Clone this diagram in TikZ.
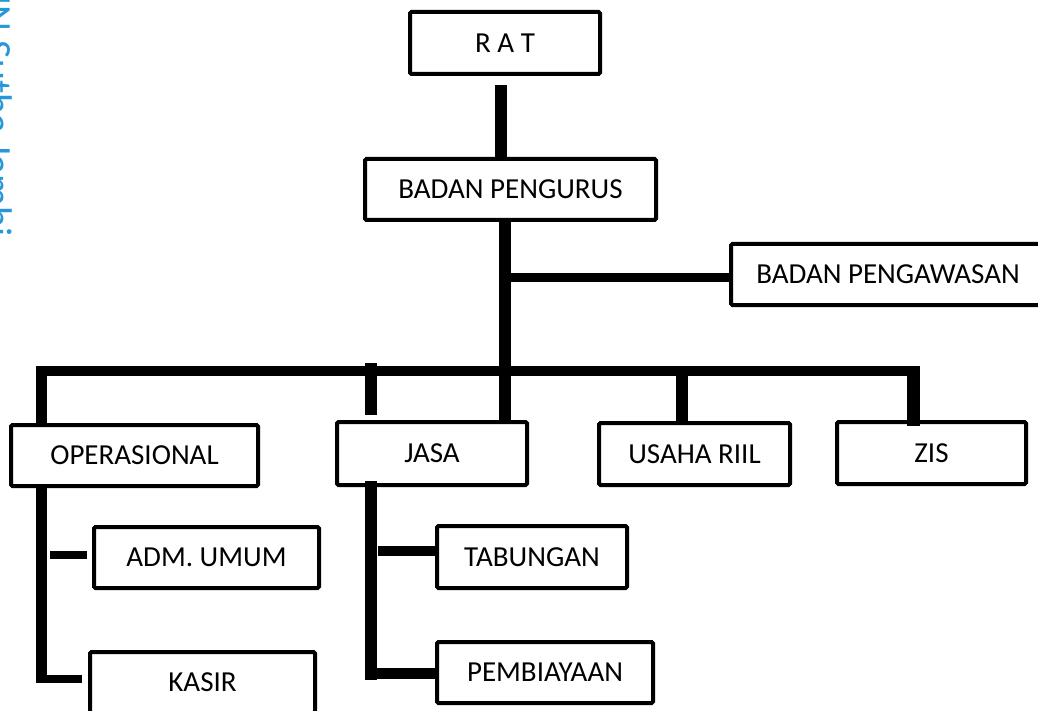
\documentclass[tikz,border=0pt]{standalone}
\usepackage{fontspec}
\setmainfont{Carlito}
\usetikzlibrary{calc}
\definecolor{wm}{RGB}{40,150,215}
\begin{document}
\begin{tikzpicture}[x=1pt,y=-1pt,
  box/.style={draw=black,line width=4pt,rounded corners=1.5pt,inner sep=0pt,
    font=\fontsize{29}{29}\selectfont,text height=18.7pt,text depth=0pt,align=center},
  cw/.style={line width=#1,line cap=butt,draw=black}]
\useasboundingbox (0,0) rectangle (1038,711);
\clip (0,0) rectangle (1038,711);
% watermark
\node[rotate=-90,anchor=base west,inner sep=0pt,text=wm,font=\fontsize{40}{40}\selectfont] (wmk) at (-16,-30) {UIN Sutha Jambi};
% boxes
\node[box,minimum width=190pt,minimum height=62pt] (rat) at (505,43) {R A T};
\node[box,minimum width=291pt,minimum height=61pt] (bp) at (510.5,189.5) {BADAN PENGURUS};
\node[box,minimum width=314pt,minimum height=61pt] (bpw) at (888,274.5) {BADAN PENGAWASAN};
\node[box,minimum width=247pt,minimum height=61pt] (oper) at (134.5,455.5) {OPERASIONAL};
\node[box,minimum width=190pt,minimum height=63pt] (jasa) at (432,453.5) {JASA};
\node[box,minimum width=191pt,minimum height=62pt] (usaha) at (694.5,454) {USAHA RIIL};
\node[box,minimum width=189pt,minimum height=62pt] (zis) at (931.5,453) {ZIS};
\node[box,minimum width=225pt,minimum height=61pt] (adm) at (206.5,557.5) {ADM. UMUM};
\node[box,minimum width=225pt,minimum height=61pt] (kasir) at (202.5,682.5) {KASIR};
\node[box,minimum width=190pt,minimum height=62pt] (tab) at (532,557) {TABUNGAN};
\node[box,minimum width=216pt,minimum height=61pt] (pemb) at (545,672.5) {PEMBIAYAAN};
% connectors
\coordinate (c1) at (501,85);
\draw[cw=12pt] (c1) -- (c1 |- bp.north);
\coordinate (t0) at (505,221);
\draw[cw=12pt] (t0) -- (t0 |- jasa.north);
\coordinate (b0) at (511,277.5);
\draw[cw=9pt] (b0) -- (b0 -| bpw.west);
\coordinate (busL) at (36,371);
\coordinate (busR) at (920,371);
\draw[cw=10pt] (busL) -- (busR);
\coordinate (d1) at (41.5,366);
\draw[cw=11pt] (d1) -- ([yshift=-3pt]d1 |- oper.north);
\coordinate (d2) at (371,363);
\draw[cw=12pt] (d2) -- ([yshift=5pt]d2 |- jasa.north);
\coordinate (d3) at (682,371);
\draw[cw=12pt] (d3) -- ([yshift=-4pt]d3 |- usaha.north);
\coordinate (d4) at (913.5,366);
\draw[cw=13pt] (d4) -- ([yshift=-6pt]d4 |- zis.north);
% operasional branch
\coordinate (s1) at (41.5,683);
\draw[cw=11pt] (s1 |- oper.south) -- (s1);
\coordinate (k0) at (47,679);
\draw[cw=8pt] (k0) -- ([xshift=-6pt]k0 -| kasir.west);
\coordinate (a0) at (50,555);
\draw[cw=8pt] (a0) -- ([xshift=-5pt]a0 -| adm.west);
% jasa branch
\coordinate (s2) at (371,680);
\draw[cw=12pt] ([yshift=6pt]s2 |- jasa.south) -- (s2);
\coordinate (tb0) at (378,551);
\draw[cw=10pt] (tb0) -- (tb0 -| tab.west);
\coordinate (p0) at (377,673.5);
\draw[cw=11pt] (p0) -- (p0 -| pemb.west);
\end{tikzpicture}
\end{document}
